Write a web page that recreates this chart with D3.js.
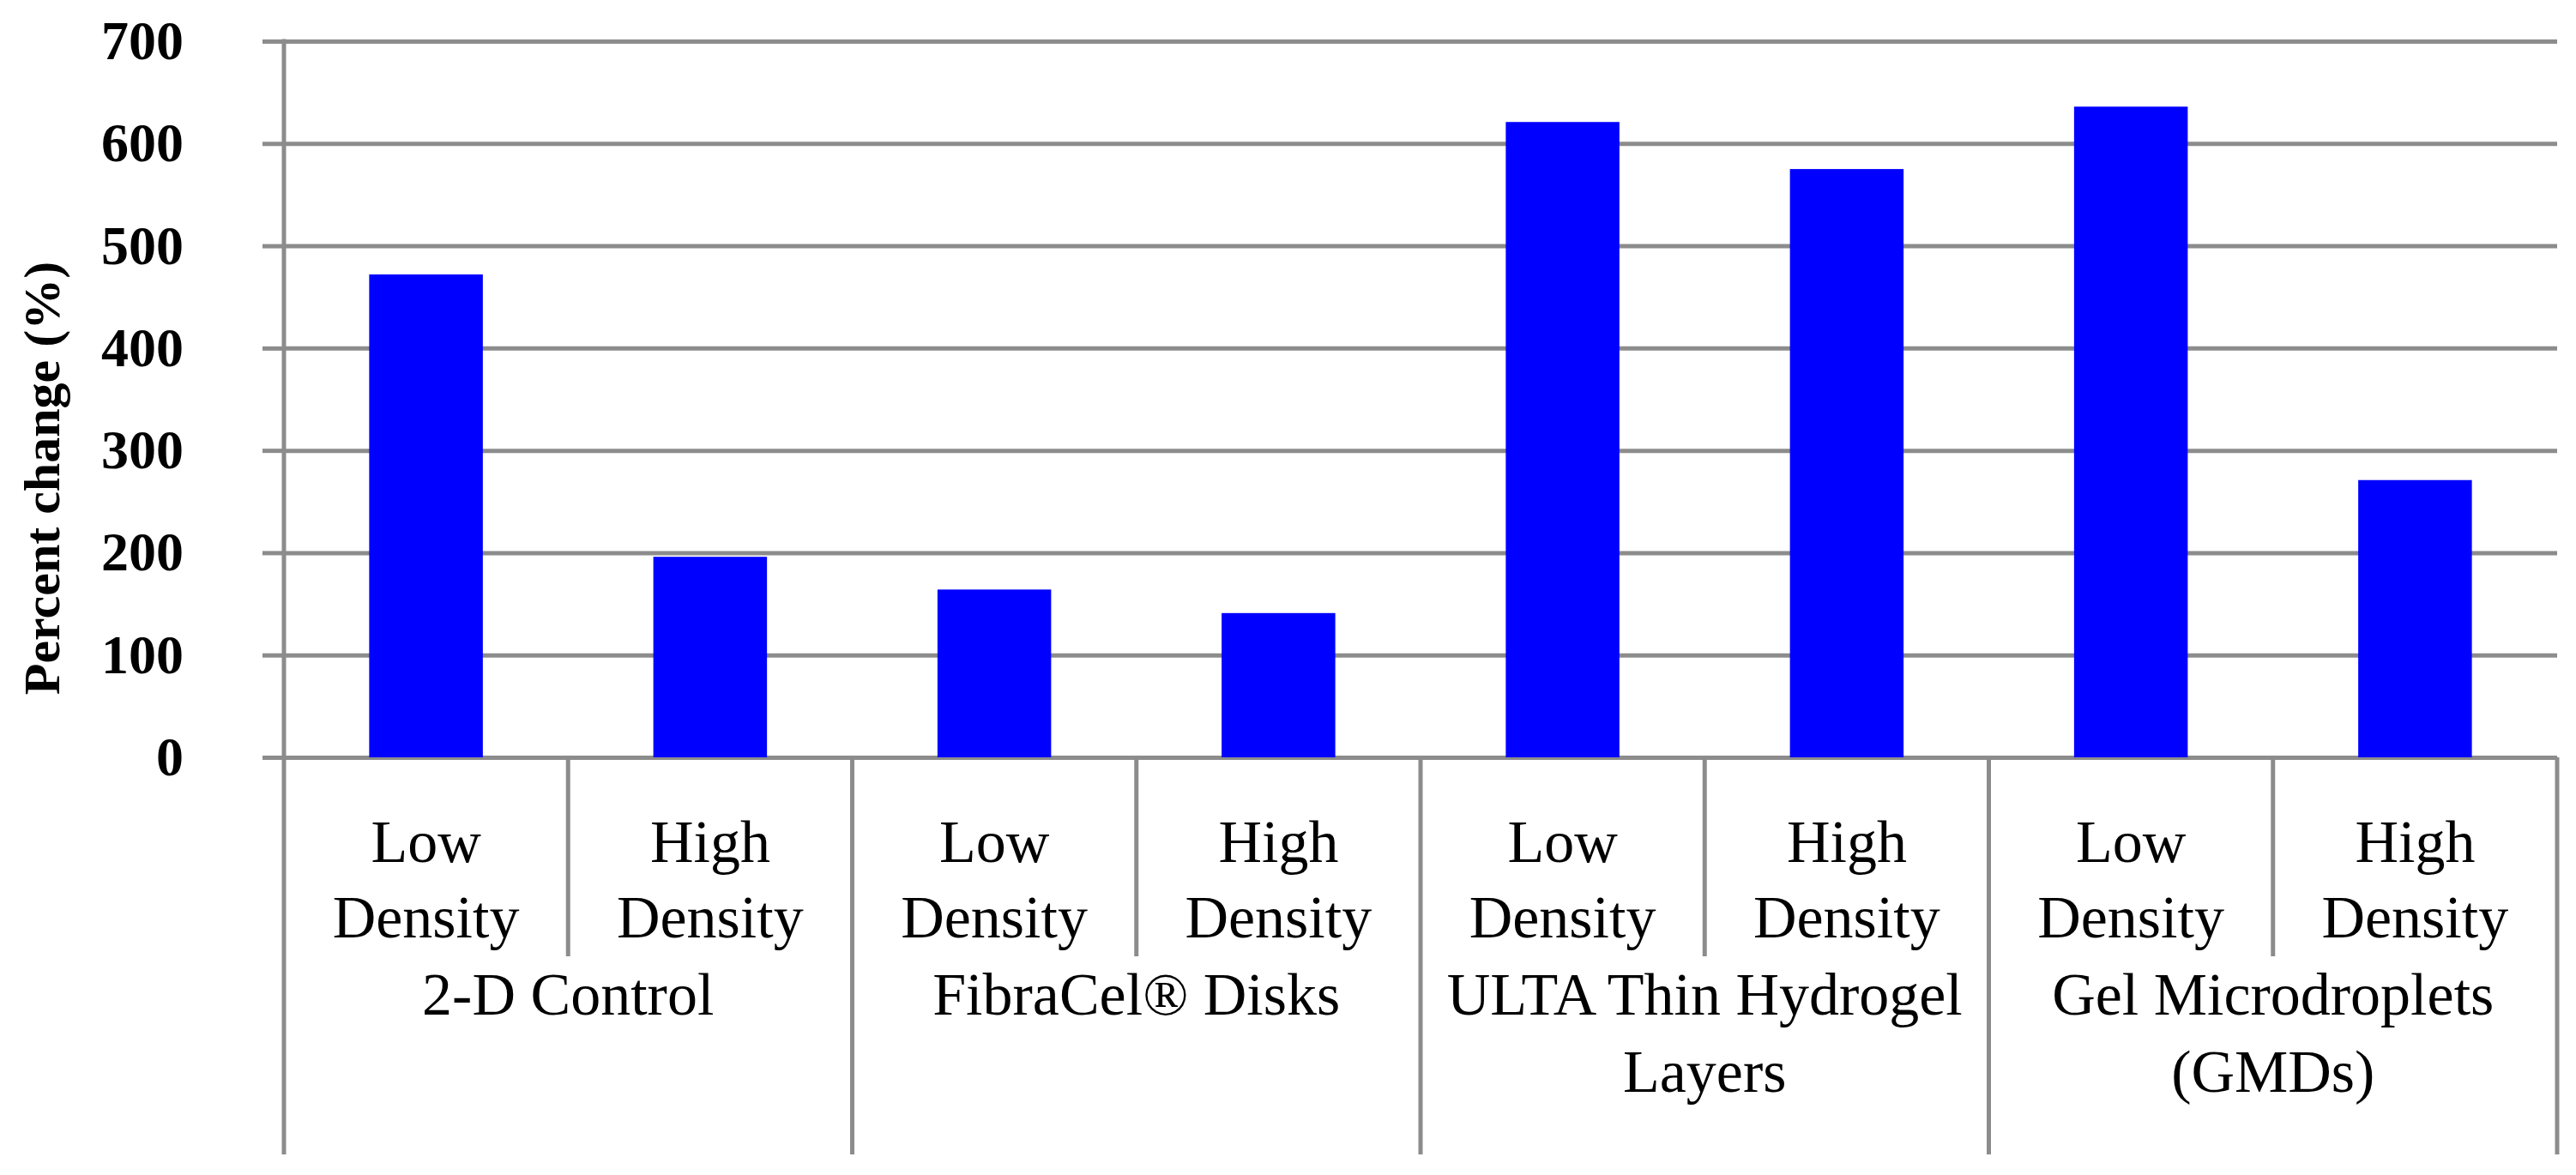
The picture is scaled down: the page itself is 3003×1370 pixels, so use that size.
<!DOCTYPE html>
<html>
<head>
<meta charset="utf-8">
<script src="https://cdn.jsdelivr.net/npm/d3@7"></script>
<style>
  body { margin: 0; background: #fff; }
  text { font-family: "Liberation Serif", "Times New Roman", serif; fill: #000; }
</style>
</head>
<body>
<div class="barChart"></div>
<script>
// Chart data
var groups = ["2-D Control", "FibraCel® Disks", "ULTA Thin Hydrogel", "Gel Microdroplets"];
var groupLines = [["2-D Control"], ["FibraCel® Disks"], ["ULTA Thin Hydrogel", "Layers"], ["Gel Microdroplets", "(GMDs)"]];
var densities = ["Low Density", "High Density"];
var densityLines = [["Low", "Density"], ["High", "Density"]];
var values = [472, 196, 164, 141, 621, 575, 636, 271];
var yTicks = [0, 100, 200, 300, 400, 500, 600, 700];
var yTitle = "Percent change (%)";

// one row per bar: group + density
var rows = [];
groups.forEach(function (g, gi) {
    densities.forEach(function (d, di) {
        rows.push({ key: g + "|" + d, group: gi, density: di, value: values[gi * 2 + di] });
    });
});

// Chart properties (window.top is reserved, so use plot* names)
var W = 3003, H = 1370;
var plotLeft = 331, plotRight = 2981, plotTop = 48, plotBottom = 883;
var gridColor = "#8c8c8c";

var svg = d3.select(".barChart")
    .append("svg")
    .attr("width", W)
    .attr("height", H);

svg.append("rect").attr("width", W).attr("height", H).attr("fill", "#fff");

// Scales
var y = d3.scaleLinear().domain([0, 700]).range([plotBottom, plotTop]);
var slot = d3.scaleBand().domain(rows.map(d => d.key)).range([plotLeft, plotRight]).padding(0);
var x = d3.scaleBand().domain(rows.map(d => d.key)).range([plotLeft, plotRight])
    .paddingInner(0.6).paddingOuter(0.3);

// Gridlines
svg.append("g")
    .attr("class", "grid")
    .attr("transform", "translate(" + plotLeft + ",0)")
    .call(d3.axisLeft(y).tickValues(yTicks).tickSize(-(plotRight - plotLeft)).tickFormat(""))
    .call(g => g.select(".domain").remove())
    .selectAll("line")
    .attr("stroke", gridColor)
    .attr("stroke-width", 5);

// Y axis with tick marks and labels
svg.append("g")
    .attr("class", "axis y")
    .attr("transform", "translate(" + plotLeft + ",0)")
    .call(d3.axisLeft(y).tickValues(yTicks).tickSize(25).tickPadding(92))
    .call(g => g.select(".domain").remove())
    .call(g => g.selectAll("line").attr("stroke", gridColor).attr("stroke-width", 5))
    .selectAll("text")
    .attr("font-family", "Liberation Serif")
    .attr("font-size", 64)
    .attr("font-weight", "bold")
    .attr("fill", "#000");

// Bars
svg.selectAll(".bar")
    .data(rows)
    .enter()
    .append("rect")
    .attr("class", "bar")
    .attr("x", d => x(d.key))
    .attr("y", d => y(d.value))
    .attr("width", x.bandwidth())
    .attr("height", d => y(0) - y(d.value))
    .attr("fill", "#0000ff");

// Y axis line (drawn over the grid)
svg.append("line")
    .attr("x1", plotLeft).attr("x2", plotLeft)
    .attr("y1", plotTop - 2.5).attr("y2", 1346)
    .attr("stroke", gridColor).attr("stroke-width", 5);

// Vertical separators below the axis
var edges = d3.range(1, rows.length + 1);
svg.selectAll(".sep")
    .data(edges)
    .enter()
    .append("line")
    .attr("class", "sep")
    .attr("x1", i => slot(rows[i - 1].key) + slot.bandwidth())
    .attr("x2", i => slot(rows[i - 1].key) + slot.bandwidth())
    .attr("y1", plotBottom)
    .attr("y2", i => (i % 2 === 0 ? 1346 : 1115))
    .attr("stroke", gridColor)
    .attr("stroke-width", 5);

// Density labels
var sub = svg.selectAll(".sub")
    .data(rows)
    .enter()
    .append("text")
    .attr("class", "sub")
    .attr("text-anchor", "middle")
    .attr("font-size", 70);
sub.each(function (d) {
    var cx = slot(d.key) + slot.bandwidth() / 2;
    d3.select(this).selectAll("tspan")
        .data(densityLines[d.density])
        .enter()
        .append("tspan")
        .attr("x", cx)
        .attr("y", (t, i) => 1005 + i * 88)
        .text(t => t);
});

// Group labels
var grp = svg.selectAll(".grp")
    .data(groups)
    .enter()
    .append("text")
    .attr("class", "grp")
    .attr("text-anchor", "middle")
    .attr("font-size", 70);
grp.each(function (g, gi) {
    var x0 = slot(rows[gi * 2].key), x1 = slot(rows[gi * 2 + 1].key) + slot.bandwidth();
    d3.select(this).selectAll("tspan")
        .data(groupLines[gi])
        .enter()
        .append("tspan")
        .attr("x", (x0 + x1) / 2)
        .attr("y", (t, i) => 1183 + i * 90)
        .text(t => t);
});

// Y axis title
svg.append("text")
    .attr("transform", "translate(69," + ((plotTop + plotBottom) / 2 + 92) + ") rotate(-90)")
    .attr("text-anchor", "middle")
    .attr("font-size", 60)
    .attr("font-weight", "bold")
    .text(yTitle);
</script>
</body>
</html>
